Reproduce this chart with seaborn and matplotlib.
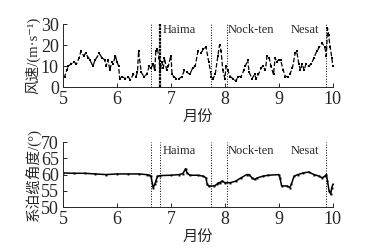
import matplotlib
matplotlib.use("Agg")
import matplotlib.pyplot as plt
import seaborn as sns
import pandas as pd

# wind speed (top panel)
wind_month = [5.00, 5.03, 5.07, 5.10, 5.15, 5.20, 5.25, 5.30, 5.33, 5.38, 5.42, 5.47,
              5.50, 5.55, 5.60, 5.67, 5.72, 5.77, 5.80, 5.83, 5.87, 5.90, 5.93, 5.97,
              6.00, 6.03, 6.05, 6.10, 6.15, 6.20, 6.25, 6.30, 6.35, 6.38, 6.40, 6.45,
              6.50, 6.55, 6.60, 6.63, 6.67, 6.70, 6.72, 6.75, 6.78, 6.80, 6.83, 6.86,
              6.88, 6.92, 6.95, 7.00, 7.02, 7.05, 7.10, 7.15, 7.20, 7.25, 7.30, 7.35,
              7.40, 7.45, 7.50, 7.55, 7.60, 7.65, 7.70, 7.75, 7.78, 7.82, 7.87, 7.90,
              7.93, 7.96, 8.00, 8.02, 8.05, 8.10, 8.15, 8.20, 8.25, 8.30, 8.35, 8.38,
              8.42, 8.45, 8.50, 8.55, 8.58, 8.62, 8.67, 8.70, 8.75, 8.78, 8.82, 8.85,
              8.90, 8.93, 8.96, 9.00, 9.03, 9.08, 9.12, 9.16, 9.20, 9.25, 9.30, 9.33,
              9.37, 9.40, 9.43, 9.47, 9.50, 9.55, 9.60, 9.65, 9.70, 9.75, 9.80, 9.85,
              9.88, 9.90, 9.92, 9.95, 9.98, 10.00]
wind_speed = [5, 5, 8, 10, 11, 12, 11, 14, 17, 15, 16, 14,
              13, 10, 13, 16, 14, 13, 10, 13, 8, 12, 11, 15,
              12, 10, 4, 5, 4, 5, 3.5, 6, 5, 7, 17, 7,
              5, 6, 10, 9, 11, 8, 17, 18, 14, 7, 12, 9,
              14, 8, 10, 15, 6, 5, 4, 4, 5, 8, 7, 6,
              9, 10, 17, 16, 18, 19, 12, 5, 4, 6, 15, 20,
              17, 8, 4, 10, 8, 5, 4, 3, 5, 5, 8, 10,
              13, 7, 4, 6, 4, 6, 9, 10, 8, 15, 14, 10,
              6, 14, 12, 13, 13, 8, 5, 5, 6, 9, 16, 17,
              11, 8, 11, 8, 11, 10, 11, 14, 17, 19, 21, 19,
              15, 28, 25, 19, 14, 10]

# mooring line angle (bottom panel)
angle_month = [5.00, 5.20, 5.40, 5.60, 5.80, 6.00, 6.20, 6.40, 6.55, 6.60, 6.63, 6.67,
               6.70, 6.72, 6.75, 6.80, 7.00, 7.15, 7.22, 7.27, 7.30, 7.35, 7.50, 7.60,
               7.65, 7.67, 7.70, 7.80, 7.85, 7.88, 7.90, 7.95, 8.00, 8.10, 8.20, 8.30,
               8.40, 8.45, 8.50, 8.55, 8.60, 8.70, 8.80, 9.00, 9.02, 9.05, 9.15, 9.20,
               9.23, 9.28, 9.35, 9.45, 9.55, 9.65, 9.75, 9.80, 9.85, 9.88, 9.90, 9.93,
               9.96, 9.98, 10.00]
angle_deg = [60.5, 60.4, 60.4, 60.2, 60.0, 60.2, 60.2, 60.2, 60.0, 59.8, 59.5, 56.0,
             57.0, 58.0, 59.5, 59.7, 59.8, 60.0, 60.3, 61.8, 60.5, 59.8, 59.8, 59.5,
             59.0, 57.0, 56.5, 56.5, 57.0, 57.5, 57.5, 58.0, 57.5, 57.5, 58.0, 59.0,
             60.0, 60.0, 59.0, 58.5, 59.0, 59.5, 59.8, 60.0, 59.0, 56.5, 56.5, 56.0,
             57.0, 59.5, 60.0, 60.5, 60.8, 60.0, 59.5, 59.0, 59.5, 60.0, 58.0, 55.0,
             54.0, 56.0, 57.0]

storm_lines = [6.63, 6.79, 7.75, 8.03, 9.88]
storm_names = ["Haima", "Nock-ten", "Nesat"]
storm_text_x = [6.85, 8.05, 9.22]

wind_df = pd.DataFrame({"month": wind_month, "speed": wind_speed})
angle_df = pd.DataFrame({"month": angle_month, "angle": angle_deg})

sns.set_style("ticks")
plt.rcParams["font.family"] = ["Liberation Serif", "Noto Sans CJK SC", "DejaVu Sans"]
plt.rcParams["xtick.direction"] = "in"
plt.rcParams["ytick.direction"] = "in"

fig = plt.figure(figsize=(3.65, 2.48), dpi=100)
ax1 = fig.add_axes([0.1726, 0.649, 0.7394, 0.254])
ax2 = fig.add_axes([0.1726, 0.165, 0.7394, 0.262])

sns.lineplot(data=wind_df, x="month", y="speed", ax=ax1, color="black",
             linestyle="--", linewidth=0.9, marker="s", markersize=1.8,
             markeredgewidth=0)
sns.lineplot(data=angle_df, x="month", y="angle", ax=ax2, color="black",
             linewidth=1.1, marker="s", markersize=1.4, markeredgewidth=0)

for ax in (ax1, ax2):
    for i, xv in enumerate(storm_lines):
        if ax is ax1 and i == 1:
            # the Haima line in the wind panel looks heavier
            ax.axvline(xv, color="black", linestyle=(0, (1.2, 0.4)), linewidth=1.6, zorder=1)
        else:
            ax.axvline(xv, color="black", linestyle=":", linewidth=0.7, zorder=1)
    ax.set_xlim(5, 10)
    ax.set_xticks([5, 6, 7, 8, 9, 10])
    ax.set_xlabel("月份", fontsize=11, labelpad=2)
    ax.tick_params(labelsize=13, length=3, width=0.7)
    ax.tick_params(axis="x", pad=3)
    ax.tick_params(axis="y", pad=3)
    sns.despine(ax=ax)
    ax.spines["left"].set_linewidth(0.7)
    ax.spines["bottom"].set_linewidth(0.7)

ax1.set_ylim(0, 30)
ax1.set_yticks([0, 10, 20, 30])
ax1.set_ylabel("风速/(m·s⁻¹)", fontsize=10.5, labelpad=0)
ax2.set_ylim(50, 70)
ax2.set_yticks([50, 55, 60, 65, 70])
ax2.set_ylabel("系泊缆角度/(°)", fontsize=10.5, labelpad=0)

for name, xv in zip(storm_names, storm_text_x):
    ax1.text(xv, 27, name, fontsize=9, va="center", ha="left")
    ax2.text(xv, 67.2, name, fontsize=9, va="center", ha="left")

fig.savefig("out.png", dpi=100)
